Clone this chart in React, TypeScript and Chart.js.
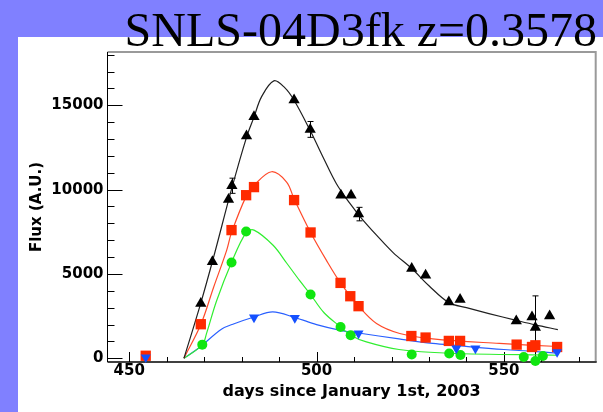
import React, { useEffect, useRef } from 'react';
import { Chart, registerables } from 'chart.js';

Chart.register(...registerables);

const TITLE = 'SNLS-04D3fk z=0.3578';
const X_TITLE = 'days since January 1st, 2003';
const Y_TITLE = 'Flux (A.U.)';

const xMajorTicks = [450, 500, 550];
const xMinorTicks = [450, 460, 470, 480, 490, 500, 510, 520, 530, 540, 550, 560, 570];
const yMajorTicks = [0, 5000, 10000, 15000];
const yMinorTicks = [0, 1000, 2000, 3000, 4000, 5000, 6000, 7000, 8000, 9000, 10000, 11000, 12000, 13000, 14000, 15000, 16000, 17000, 18000];

// measured points
const blackDays = [469.1, 472.2, 476.5, 477.4, 481.3, 483.3, 494.0, 498.3, 506.5, 509.2, 511.2, 525.4, 529.1, 535.3, 538.3, 553.3, 557.5, 558.4, 562.2];
const blackFlux = [3250, 5720, 9420, 10230, 13180, 14320, 15310, 13570, 9670, 9670, 8550, 5320, 4930, 3340, 3480, 2210, 2450, 1820, 2510];
const blackErr = [0, 0, 0, 450, 0, 0, 0, 470, 0, 0, 400, 0, 0, 0, 0, 0, 0, 1880, 0];

const redDays = [454.4, 469.1, 477.3, 481.2, 483.3, 494.0, 498.4, 506.4, 509.0, 511.2, 525.3, 529.1, 535.3, 538.3, 553.4, 557.5, 558.4, 564.2];
const redFlux = [150, 2020, 7600, 9670, 10150, 9380, 7460, 4470, 3680, 3090, 1320, 1230, 1030, 1030, 810, 670, 770, 670];

const greenDays = [469.5, 477.3, 481.2, 498.4, 506.4, 509.1, 525.4, 535.4, 538.4, 555.3, 558.4, 560.4];
const greenFlux = [810, 5680, 7520, 3780, 1860, 1370, 220, 280, 200, 80, -160, 140];

const blueDays = [454.4, 483.3, 494.2, 511.2, 537.3, 542.4, 564.2];
const blueFlux = [60, 2420, 2390, 1470, 580, 580, 370];

// fitted light curves
const blackFitDays = [464.6, 469.0, 472.4, 477.4, 481.3, 483.3, 485.3, 488.6, 491.5, 494.0, 498.3, 502.0, 505.3, 508.9, 512.0, 516.0, 520.5, 525.4, 530.0, 535.3, 540.0, 546.0, 553.3, 558.4, 564.4];
const blackFitFlux = [0, 3200, 5900, 10100, 13100, 14300, 15500, 16450, 16050, 15300, 13500, 11800, 10350, 9180, 8300, 7300, 6250, 5320, 4300, 3300, 3000, 2650, 2250, 1980, 1700];

const redFitDays = [464.6, 469.1, 472.5, 476.0, 477.3, 481.2, 483.3, 488.0, 492.0, 494.0, 498.4, 502.6, 506.4, 511.2, 516.0, 522.2, 531.0, 548.8, 564.4];
const redFitFlux = [0, 2000, 4200, 6400, 7450, 9600, 10250, 11060, 10450, 9450, 7460, 5820, 4470, 3100, 2060, 1470, 1150, 880, 700];

const greenFitDays = [464.6, 469.5, 470.6, 473.3, 477.3, 481.2, 483.3, 488.4, 492.0, 495.5, 498.4, 502.0, 506.4, 509.1, 513.3, 522.0, 535.5, 564.4];
const greenFitFlux = [0, 800, 1450, 3400, 5680, 7450, 7600, 6700, 5650, 4600, 3780, 2700, 1860, 1370, 970, 520, 300, 180];

const blueFitDays = [464.6, 468.9, 474.6, 478.0, 483.3, 488.3, 494.2, 500.0, 506.4, 511.2, 522.0, 531.0, 537.0, 550.0, 564.4];
const blueFitFlux = [0, 670, 1720, 2050, 2450, 2750, 2420, 2000, 1660, 1500, 1150, 880, 760, 520, 320];

const X_MIN = 444.2;
const X_MAX = 574.5;
const Y_MIN = -220;
const Y_MAX = 18160;

const zip = (xs: number[], ys: number[]) => xs.map((x, i) => ({ x, y: ys[i] }));

const TICK_FONT = { family: '"DejaVu Sans", sans-serif', size: 15, weight: 'bold' as const };

const decor = {
  id: 'decor',
  beforeDraw(chart: any) {
    const { ctx, width, height } = chart;
    ctx.save();
    ctx.fillStyle = '#8080ff';
    ctx.fillRect(0, 0, width, height);
    ctx.fillStyle = '#ffffff';
    ctx.fillRect(18, 37, width - 18, height - 37);
    ctx.fillStyle = '#000000';
    ctx.font = '48px "Liberation Serif", serif';
    ctx.textAlign = 'right';
    ctx.textBaseline = 'alphabetic';
    ctx.fillText(TITLE, 597, 46);
    ctx.restore();
  },
  beforeDatasetsDraw(chart: any) {
    const { ctx, chartArea: a, scales } = chart;
    const xs = scales.x;
    const ys = scales.y;
    ctx.save();
    ctx.strokeStyle = '#9a9a9a';
    ctx.lineWidth = 2;
    ctx.beginPath();
    ctx.moveTo(a.left, a.top);
    ctx.lineTo(a.right, a.top);
    ctx.lineTo(a.right, a.bottom);
    ctx.stroke();
    ctx.strokeStyle = '#404040';
    ctx.lineWidth = 2;
    ctx.beginPath();
    ctx.moveTo(a.left, a.bottom);
    ctx.lineTo(a.right + 1, a.bottom);
    ctx.stroke();
    ctx.strokeStyle = '#000000';
    ctx.lineWidth = 1;
    ctx.beginPath();
    ctx.moveTo(a.left, a.top);
    ctx.lineTo(a.left, a.bottom);
    ctx.stroke();
    ctx.beginPath();
    yMinorTicks.forEach((v) => {
      const py = Math.round(ys.getPixelForValue(v)) + 0.5;
      const len = yMajorTicks.includes(v) ? 15 : 7;
      ctx.moveTo(a.left, py);
      ctx.lineTo(a.left + len, py);
    });
    xMinorTicks.forEach((v) => {
      const px = Math.round(xs.getPixelForValue(v)) + 0.5;
      const len = xMajorTicks.includes(v) ? 10 : 5;
      ctx.moveTo(px, a.bottom);
      ctx.lineTo(px, a.bottom - len);
    });
    ctx.stroke();
    ctx.strokeStyle = '#000000';
    ctx.beginPath();
    blackDays.forEach((d, i) => {
      const e = blackErr[i];
      if (!e) return;
      const px = Math.round(xs.getPixelForValue(d)) + 0.5;
      const y1 = ys.getPixelForValue(blackFlux[i] + e);
      const y2 = ys.getPixelForValue(blackFlux[i] - e);
      ctx.moveTo(px, y1);
      ctx.lineTo(px, y2);
      ctx.moveTo(px - 3, y1);
      ctx.lineTo(px + 3, y1);
      ctx.moveTo(px - 3, y2);
      ctx.lineTo(px + 3, y2);
    });
    ctx.stroke();
    ctx.restore();
  },
};

const fitDataset = (xs: number[], ys: number[], color: string) => ({
  data: zip(xs, ys),
  showLine: true,
  borderColor: color,
  borderWidth: 1.2,
  pointRadius: 0,
  pointHoverRadius: 0,
  tension: 0.35,
  fill: false,
  order: 10,
});

const markerDataset = (xs: number[], ys: number[], color: string, style: string, radius: number, rotation = 0, order = 1) => ({
  data: zip(xs, ys),
  showLine: false,
  backgroundColor: color,
  borderColor: color,
  borderWidth: 0,
  pointStyle: style,
  pointRadius: radius,
  pointHoverRadius: radius,
  rotation,
  clip: false,
  order,
});

export default function App() {
  const ref = useRef<HTMLCanvasElement>(null);
  useEffect(() => {
    if (!ref.current) return;
    const chart = new Chart(ref.current, {
      type: 'scatter',
      data: {
        datasets: [
          markerDataset(blackDays, blackFlux, '#000000', 'triangle', 6.5, 0, 1),
          markerDataset(blueDays, blueFlux, '#1450ff', 'triangle', 5.8, 180, 2),
          markerDataset(redDays, redFlux, '#ff2a00', 'rect', 7.3, 0, 4),
          markerDataset(greenDays, greenFlux, '#10e610', 'circle', 5, 0, 3),
          fitDataset(blackFitDays, blackFitFlux, '#202020'),
          fitDataset(redFitDays, redFitFlux, '#ff4a2a'),
          fitDataset(greenFitDays, greenFitFlux, '#30ee30'),
          fitDataset(blueFitDays, blueFitFlux, '#2a60ff'),
        ] as any,
      },
      options: {
        responsive: false,
        animation: false,
        devicePixelRatio: 1,
        events: [],
        layout: { padding: { left: 18, top: 52, right: 7, bottom: 0 } },
        plugins: {
          legend: { display: false },
          tooltip: { enabled: false },
          title: { display: false },
        },
        scales: {
          x: {
            type: 'linear',
            position: 'bottom',
            min: X_MIN,
            max: X_MAX,
            afterFit: (s: any) => { s.height = 50; },
            afterBuildTicks: (s: any) => { s.ticks = xMajorTicks.map((v) => ({ value: v })); },
            grid: { display: false, drawTicks: false },
            border: { display: false },
            ticks: {
              padding: 0,
              color: '#000000',
              font: TICK_FONT,
              maxRotation: 0,
              autoSkip: false,
              callback: (v: any) => String(v),
            },
            title: {
              display: true,
              text: X_TITLE,
              color: '#000000',
              font: { family: '"DejaVu Sans", sans-serif', size: 16, weight: 'bold' },
              padding: { top: 0, bottom: 11 },
            },
          },
          y: {
            type: 'linear',
            position: 'left',
            min: Y_MIN,
            max: Y_MAX,
            afterFit: (s: any) => { s.width = 89.5; },
            afterBuildTicks: (s: any) => { s.ticks = yMajorTicks.map((v) => ({ value: v })); },
            grid: { display: false, drawTicks: false },
            border: { display: false },
            ticks: {
              padding: 4,
              color: '#000000',
              font: TICK_FONT,
              autoSkip: false,
              callback: (v: any) => String(v),
            },
            title: {
              display: true,
              text: Y_TITLE,
              color: '#000000',
              font: { family: '"DejaVu Sans", sans-serif', size: 15, weight: 'bold' },
              padding: { top: 10, bottom: 0 },
            },
          },
        },
      } as any,
      plugins: [decor],
    });
    return () => chart.destroy();
  }, []);
  return (
    <div style={{ position: 'fixed', left: 0, top: 0, width: 603, height: 412 }}>
      <canvas ref={ref} width={603} height={412} style={{ display: 'block' }} />
    </div>
  );
}
